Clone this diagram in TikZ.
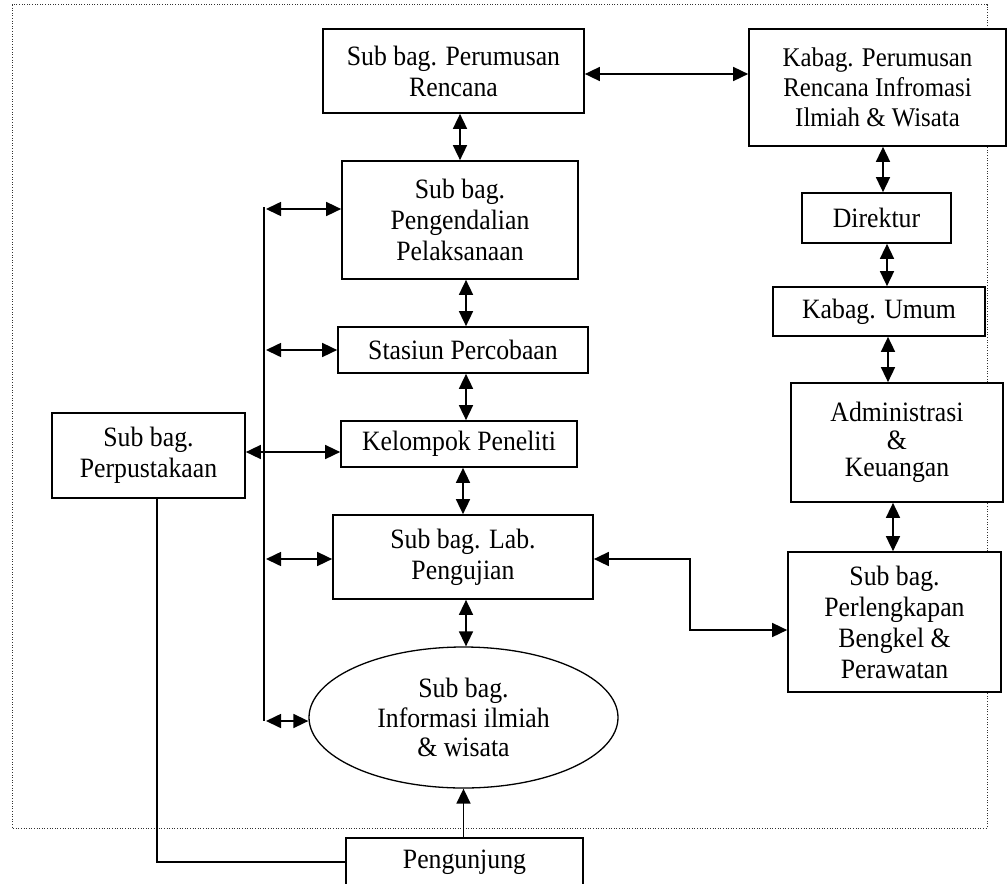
\documentclass[tikz,border=0pt]{standalone}
\usepackage{fontspec}
\setmainfont{Liberation Serif}[FakeStretch=0.92]
\usetikzlibrary{arrows.meta,shapes.geometric}
\begin{document}
\begin{tikzpicture}[x=1pt,y=-1pt,
  box/.style={draw, line width=1.7pt, fill=white, rectangle, align=center, inner sep=0pt,
    font=\fontsize{28}{31}\selectfont},
  oval/.style={draw, ellipse, line width=1.3pt, fill=white, align=center, inner sep=0pt,
    font=\fontsize{28}{29.5}\selectfont},
  conn/.style={line width=1.6pt},
  dbl/.style={conn, {Triangle[length=15pt,width=14pt]}-{Triangle[length=15pt,width=14pt]}},
  sgl/.style={conn, -{Triangle[length=15pt,width=14pt]}},
  frame/.style={line width=1pt, draw=black!80, dash pattern=on 1pt off 1.6pt}
]
\useasboundingbox (0,0) rectangle (1008,883);
\clip (0,0) rectangle (1008,883);

% dotted frame
\draw[frame] (12,5) rectangle (987,828);

% left/centre column
\node[box, minimum width=261pt, minimum height=84pt] (pr) at (453.5,71) {Sub bag. Perumusan\\Rencana};
\node[box, minimum width=257pt, minimum height=117pt, font=\fontsize{27}{30}\selectfont] (kb) at (877.5,87.5) {Kabag. Perumusan\\Rencana Infromasi\\Ilmiah \& Wisata};
\node[box, minimum width=236pt, minimum height=118pt] (pg) at (460,220) {Sub bag.\\Pengendalian\\Pelaksanaan};
\node[box, minimum width=250pt, minimum height=46pt] (st) at (463,350) {Stasiun Percobaan};
\node[box, minimum width=236pt, minimum height=46pt] (kp) at (459,444) {Kelompok Peneliti};
\node[box, minimum width=260pt, minimum height=84pt] (lab) at (463,557) {Sub bag. Lab.\\Pengujian};
\node[oval, minimum width=309pt, minimum height=141pt] (el) at (463.5,717.5) {Sub bag.\\Informasi ilmiah\\\& wisata};
\node[box, minimum width=237pt, minimum height=48pt] (pj) at (464.5,862) {Pengunjung};
\node[box, minimum width=193pt, minimum height=85pt] (pp) at (148.5,455.5) {Sub bag.\\Perpustakaan};

% right column
\node[box, minimum width=149pt, minimum height=50pt] (dr) at (876.5,218) {Direktur};
\node[box, minimum width=212pt, minimum height=49pt] (ku) at (879,311.5) {Kabag. Umum};
\node[box, minimum width=212pt, minimum height=119pt, font=\fontsize{28}{27.5}\selectfont] (ad) at (897,442.5) {Administrasi\\\&\\Keuangan};
\node[box, minimum width=213pt, minimum height=140pt] (pl) at (894.5,622) {Sub bag.\\Perlengkapan\\Bengkel \&\\Perawatan};

% lanes
\coordinate (h1) at (0,74);
\coordinate (r1) at (883,0);
\coordinate (r2) at (887,0);
\coordinate (r3) at (888,0);
\coordinate (r4) at (893,0);
\coordinate (busTop) at (264,207);
\coordinate (busBot) at (264,721);
\coordinate (b1) at (266,209);
\coordinate (b2) at (266,350);
\coordinate (b3) at (264,452);
\coordinate (b4) at (266,559);
\coordinate (b5) at (266,721);
\coordinate (k1) at (690,559);
\coordinate (k2) at (690,630);
\coordinate (pv) at (157,862);

% top horizontal
\draw[dbl] (pr.east |- h1) -- (kb.west |- h1);

% centre vertical chain
\draw[dbl] (pg.north |- pr.south) -- (pg.north);
\draw[dbl] ([xshift=3pt]st.north |- pg.south) -- ([xshift=3pt]st.north);
\draw[dbl] ([xshift=3pt]st.south) -- ([xshift=3pt]st.south |- kp.north);
\draw[dbl] (lab.north |- kp.south) -- (lab.north);
\draw[dbl] ([xshift=3pt]lab.south) -- ([xshift=3pt]lab.south |- el.north);
\draw[sgl] (el.south |- pj.north) -- (el.south);

% right vertical chain
\draw[dbl] (kb.south -| r1) -- (dr.north -| r1);
\draw[dbl] (dr.south -| r2) -- (ku.north -| r2);
\draw[dbl] (ku.south -| r3) -- (ad.north -| r3);
\draw[dbl] (ad.south -| r4) -- (pl.north -| r4);

% bus
\draw[conn] (busTop) -- (busBot);
\draw[dbl] (b1) -- (pg.west |- b1);
\draw[dbl] (b2) -- (st.west |- b2);
\draw[dbl] (pp.east |- b3) -- (kp.west |- b3);
\draw[dbl] (b4) -- (lab.west |- b4);
\draw[dbl] (b5) -- (el.west |- b5);

% lab to perlengkapan
\draw[dbl] (lab.east |- k1) -- (k1) -- (k2) -- (pl.west |- k2);

% perpustakaan to pengunjung
\draw[conn] (pp.south -| pv) -- (pv) -- (pj.west |- pv);
\end{tikzpicture}
\end{document}
